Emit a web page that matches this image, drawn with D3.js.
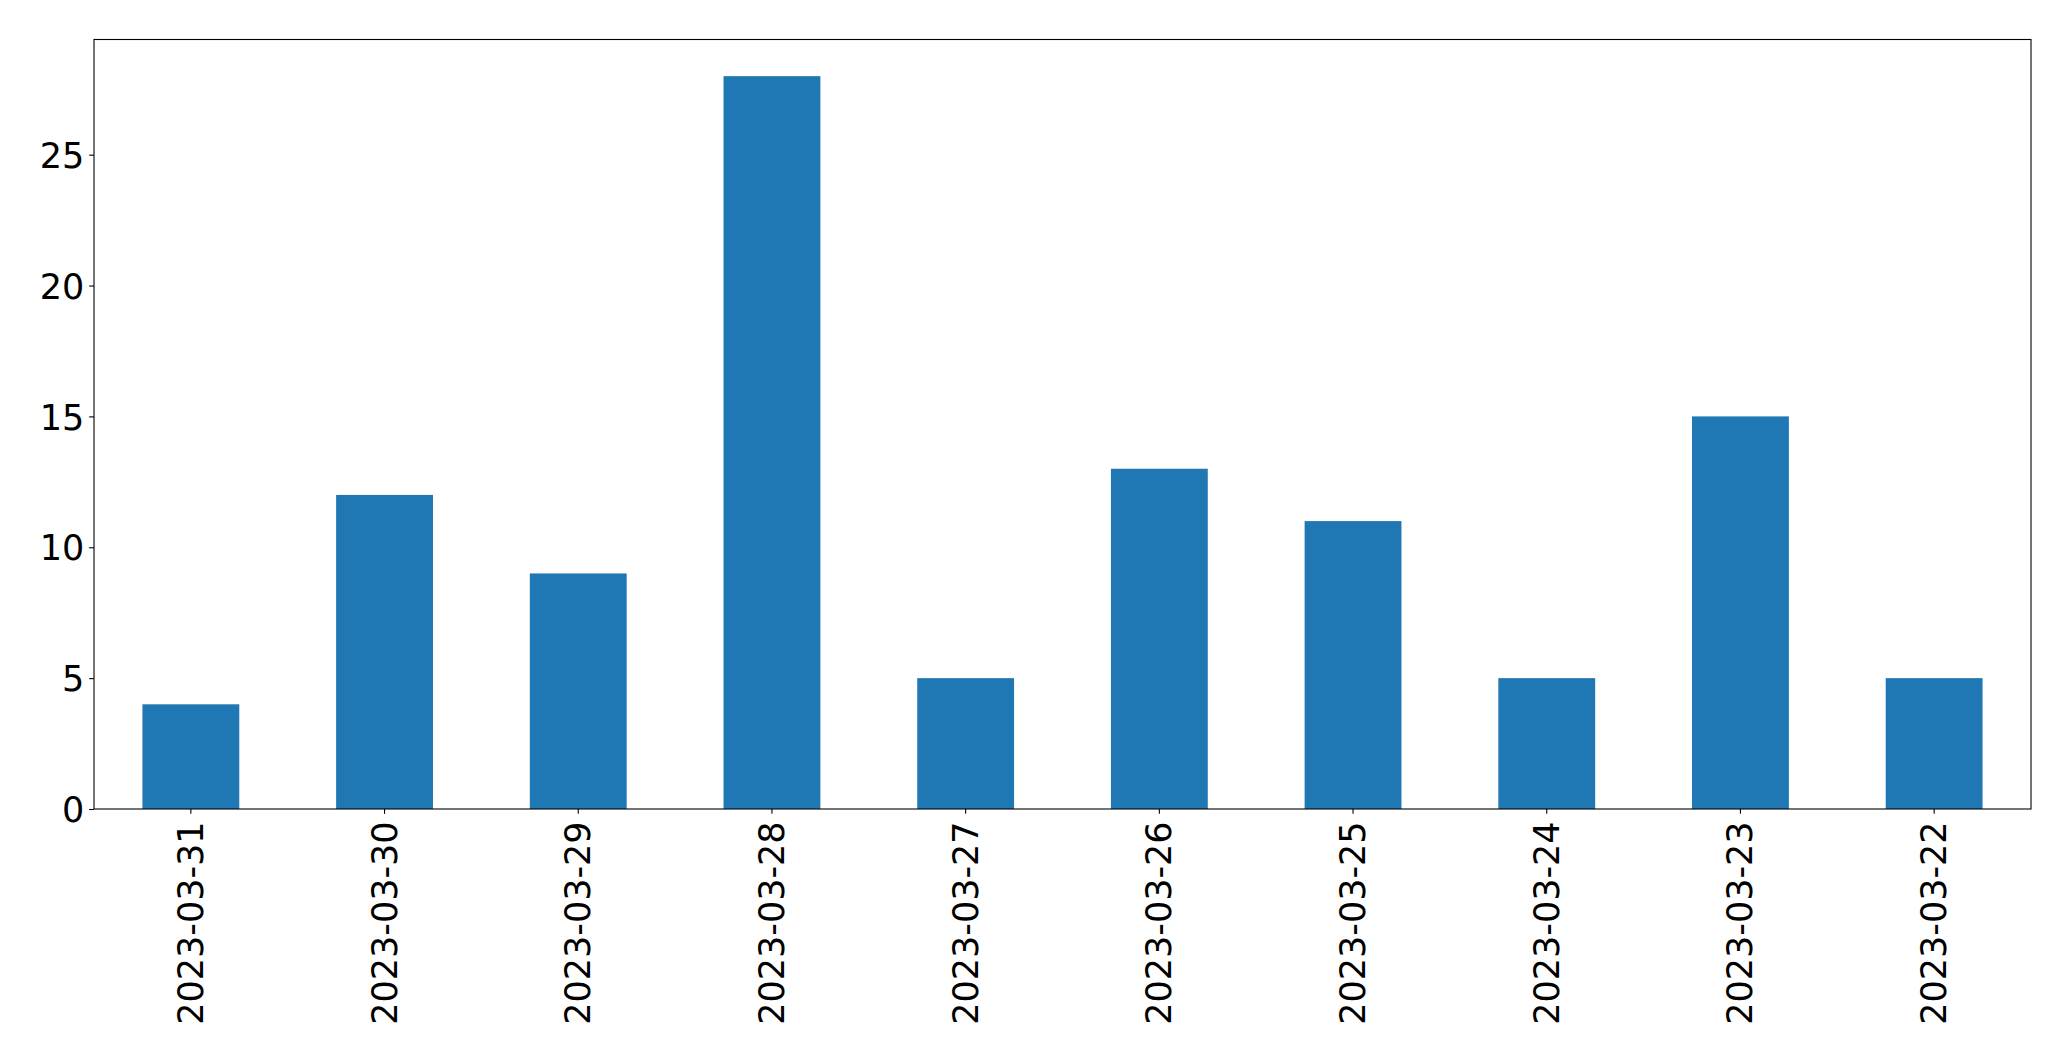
<!DOCTYPE html>
<html>
<head>
<meta charset="utf-8">
<script src="https://cdn.jsdelivr.net/npm/d3@7"></script>
<style>
  html, body { margin: 0; padding: 0; background: #fff; }
  svg { display: block; }
  text { font-family: "DejaVu Sans", sans-serif; fill: #000; }
</style>
</head>
<body>
<svg id="chart" width="2071" height="1061"></svg>
<script>
const categories = ["2023-03-31","2023-03-30","2023-03-29","2023-03-28","2023-03-27","2023-03-26","2023-03-25","2023-03-24","2023-03-23","2023-03-22"];
const values = [4, 12, 9, 28, 5, 13, 11, 5, 15, 5];
const yTicks = [0, 5, 10, 15, 20, 25];

const W = 2071, H = 1061;
const margin = {left: 94, right: 40, top: 39.5, bottom: 252};
const plotW = W - margin.left - margin.right;
const plotH = H - margin.top - margin.bottom;

const svg = d3.select("#chart");
const g = svg.append("g").attr("transform", `translate(${margin.left},${margin.top})`);

const x = d3.scaleBand().domain(categories).range([0, plotW]).paddingInner(0.5).paddingOuter(0.25);
const y = d3.scaleLinear().domain([0, d3.max(values) * 1.05]).range([plotH, 0]);

g.selectAll("rect.bar").data(values).enter().append("rect")
  .attr("class", "bar")
  .attr("x", (d, i) => x(categories[i]))
  .attr("y", d => y(d))
  .attr("width", x.bandwidth())
  .attr("height", d => y(0) - y(d))
  .attr("fill", "#1f77b4");

const fontSize = 35;
const tickLen = 4.86;

const yAxis = d3.axisLeft(y).tickValues(yTicks).tickSize(tickLen).tickPadding(4.86).tickFormat(d3.format("d"));
const ya = g.append("g").call(yAxis);
ya.select(".domain").remove();
ya.selectAll("line").attr("stroke", "#000").attr("stroke-width", 1.1);
ya.selectAll("text").style("font-size", fontSize + "px").attr("dy", "0.36em");

const xAxis = d3.axisBottom(x).tickSize(tickLen).tickPadding(0);
const xa = g.append("g").attr("transform", `translate(0,${plotH})`).call(xAxis);
xa.select(".domain").remove();
xa.selectAll("line").attr("stroke", "#000").attr("stroke-width", 1.1);
xa.selectAll("text")
  .style("font-size", fontSize + "px")
  .attr("text-anchor", "end")
  .attr("dy", null)
  .attr("y", null)
  .attr("dominant-baseline", "central")
  .attr("transform", `translate(0,${tickLen + 7.5}) rotate(-90)`);

g.append("rect")
  .attr("x", 0).attr("y", 0).attr("width", plotW).attr("height", plotH)
  .attr("fill", "none").attr("stroke", "#000").attr("stroke-width", 1.1);
</script>
</body>
</html>
